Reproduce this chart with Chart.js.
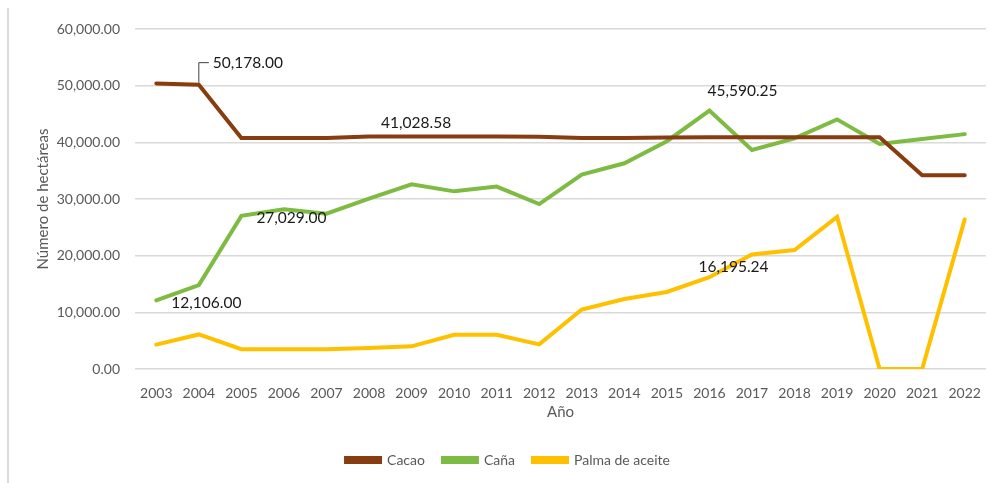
<!DOCTYPE html>
<html>
<head>
<meta charset="utf-8">
<script src="https://cdn.jsdelivr.net/npm/chart.js@4/dist/chart.umd.min.js"></script>
<style>
  html, body { margin: 0; padding: 0; background: #ffffff; }
  #wrap { position: relative; width: 997px; height: 483px; }
  #wrap::before { content: ""; position: absolute; left: 7px; top: 8px; width: 2px; height: 475px; background: #d9d9d9; }
</style>
</head>
<body>
<div id="wrap"><canvas id="c" width="997" height="483"></canvas></div>
<script>
// Hectáreas sembradas por cultivo, 2003–2022
const years = ['2003','2004','2005','2006','2007','2008','2009','2010','2011','2012',
               '2013','2014','2015','2016','2017','2018','2019','2020','2021','2022'];
const cacao = [50400, 50178, 40750, 40750, 40750, 41028.58, 41050, 41050, 41050, 41000,
               40750, 40750, 40850, 40900, 40900, 40900, 40900, 40900, 34200, 34200];
const cana  = [12106, 14800, 27029, 28200, 27400, 30050, 32600, 31350, 32200, 29100,
               34300, 36300, 40200, 45590.25, 38650, 40700, 44050, 39700, 40600, 41450];
const palma = [4300, 6100, 3500, 3500, 3500, 3700, 4000, 6050, 6050, 4350,
               10500, 12350, 13600, 16195.24, 20200, 21000, 26850, 0, 0, 26400];
const yTicks = [0, 10000, 20000, 30000, 40000, 50000, 60000];

// Etiquetas de valor: serie, índice del año, desplazamiento del texto
const valueLabels = [
  { ds: 0, i: 1,  dx: 14, dy: -22, leader: true },
  { ds: 0, i: 5,  dx: 12, dy: -14 },
  { ds: 1, i: 0,  dx: 15, dy: 3 },
  { ds: 1, i: 2,  dx: 15, dy: 2 },
  { ds: 1, i: 13, dx: -2, dy: -20 },
  { ds: 2, i: 13, dx: -11, dy: -10 }
];

const fmt = v => v.toLocaleString('en-US', { minimumFractionDigits: 2, maximumFractionDigits: 2 });
const FONT = 'Lato, "Open Sans", sans-serif';

const labelPlugin = {
  id: 'valueLabels',
  afterLayout(chart) {
    // desplaza la leyenda hacia el centro del área de trazado
    const lg = chart.legend;
    if (lg) { lg.left += 15; lg.right += 15; }
  },
  afterDatasetsDraw(chart) {
    const ctx = chart.ctx;
    ctx.save();
    ctx.font = '15.5px ' + FONT;
    ctx.fillStyle = '#1a1a1a';
    ctx.textBaseline = 'middle';
    ctx.textAlign = 'left';
    valueLabels.forEach(l => {
      const pt = chart.getDatasetMeta(l.ds).data[l.i];
      const v = chart.data.datasets[l.ds].data[l.i];
      const tx = pt.x + l.dx, ty = pt.y + l.dy;
      if (l.leader) {
        ctx.strokeStyle = '#404040';
        ctx.lineWidth = 1;
        ctx.beginPath();
        ctx.moveTo(pt.x, pt.y - 2);
        ctx.lineTo(pt.x, ty);
        ctx.lineTo(tx - 4, ty);
        ctx.stroke();
      }
      ctx.fillText(fmt(v), tx, ty);
    });
    ctx.restore();
  }
};

const lineDs = (label, data, color) => ({
  label, data,
  borderColor: color, backgroundColor: color,
  borderWidth: 4, pointRadius: 0, tension: 0,
  borderJoinStyle: 'miter', borderCapStyle: 'round'
});

new Chart(document.getElementById('c'), {
  type: 'line',
  data: {
    labels: years,
    datasets: [
      lineDs('Cacao', cacao, '#873d10'),
      lineDs('Caña', cana, '#7dbb42'),
      lineDs('Palma de aceite', palma, '#ffc000')
    ]
  },
  options: {
    responsive: false,
    animation: false,
    layout: { padding: { top: 29, right: 11, left: 0, bottom: 6 } },
    plugins: {
      tooltip: { enabled: false },
      legend: {
        position: 'bottom',
        labels: {
          font: { family: FONT, size: 14 },
          color: '#595959',
          boxWidth: 34, boxHeight: 4,
          padding: 18
        }
      }
    },
    scales: {
      x: {
        offset: true,
        afterFit(scale) { scale.height = 66; },
        grid: { display: false },
        border: { display: false },
        ticks: { font: { family: FONT, size: 14 }, color: '#595959', padding: 8, maxRotation: 0, autoSkip: false },
        title: { display: true, text: 'Año', font: { family: FONT, size: 15 }, color: '#595959', padding: { top: 0, bottom: 14 } }
      },
      y: {
        min: 0, max: 60000,
        afterBuildTicks(scale) { scale.ticks = yTicks.map(v => ({ value: v })); },
        afterFit(scale) { scale.width = 135; },
        grid: { color: '#d9d9d9', lineWidth: 1.5, drawTicks: false },
        border: { display: false },
        ticks: { font: { family: FONT, size: 14 }, color: '#595959', padding: 15, callback: v => fmt(v) },
        title: { display: true, text: 'Número de hectáreas', font: { family: FONT, size: 15 }, color: '#595959', padding: { top: 34, bottom: 0 } }
      }
    }
  },
  plugins: [labelPlugin]
});
</script>
</body>
</html>
